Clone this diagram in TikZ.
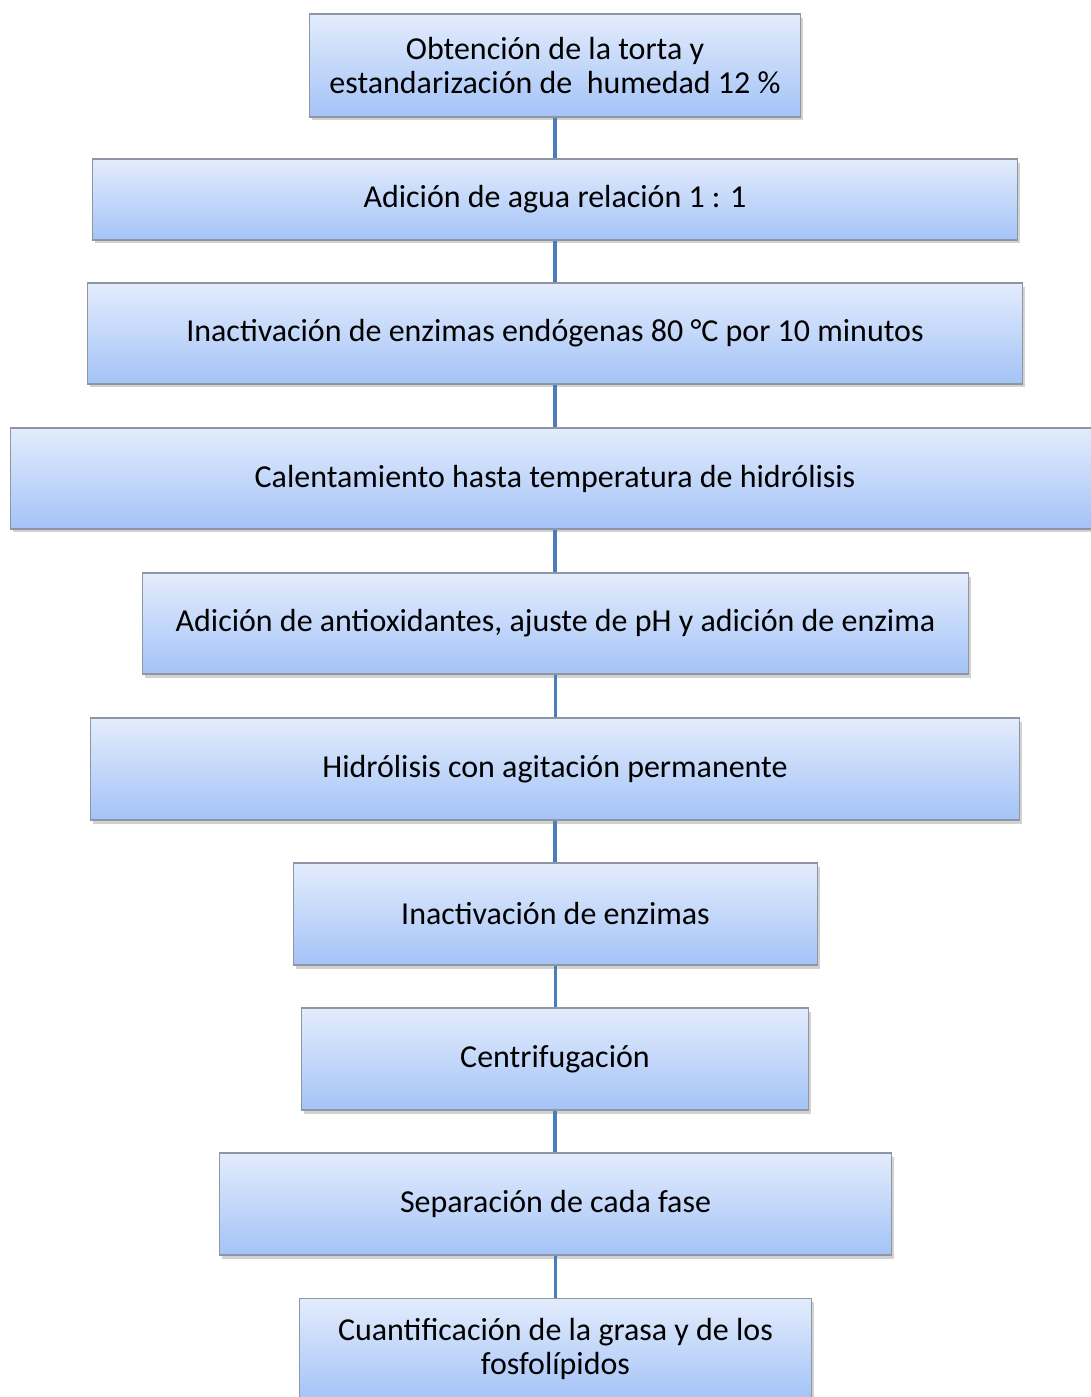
\documentclass[tikz,border=0pt]{standalone}
\usepackage{fontspec}
\setmainfont{Carlito}
\usetikzlibrary{shadows}
\definecolor{boxtop}{HTML}{E3ECFC}
\definecolor{boxbot}{HTML}{A4C3F7}
\definecolor{boxline}{HTML}{8E96A3}
\definecolor{linkblue}{HTML}{4A7EBB}
\tikzset{
  paso/.style={draw=boxline, line width=0.6pt, top color=boxtop, bottom color=boxbot,
    drop shadow={shadow xshift=0.05cm, shadow yshift=-0.07cm, fill=black!35, opacity=0.5},
    align=center, inner sep=0pt, font=\fontsize{18.2}{19.5}\selectfont},
  enlace/.style={linkblue, line width=2.2pt}
}
\begin{document}
\begin{tikzpicture}[x=0.02cm,y=-0.02cm]
        \useasboundingbox (0,0) rectangle (1090,1397);
        \node[paso, minimum width=9.84cm, minimum height=2.06cm] (p1) at (555,65.5)
            {Obtención de la torta y\\estandarización de\ \ humedad\ 12 \%};
        \node[paso, minimum width=18.52cm, minimum height=1.62cm] (p2) at (555,199.5)
            {Adición de agua relación 1 : 1};
        \node[paso, minimum width=18.72cm, minimum height=2.02cm] (p3) at (555,333.5)
            {Inactivación de enzimas endógenas 80 °C por 10 minutos};
        \node[paso, minimum width=21.8cm, minimum height=2.02cm] (p4) at (555,478.5)
            {Calentamiento hasta temperatura de hidrólisis};
        \node[paso, minimum width=16.54cm, minimum height=2.02cm] (p5) at (555.5,623.5)
            {Adición de antioxidantes, ajuste de pH y adición de enzima};
        \node[paso, minimum width=18.6cm, minimum height=2.04cm] (p6) at (555,769)
            {Hidrólisis con agitación permanente};
        \node[paso, minimum width=10.5cm, minimum height=2.04cm] (p7) at (555.5,914)
            {Inactivación de enzimas};
        \node[paso, minimum width=10.16cm, minimum height=2.04cm] (p8) at (555,1059)
            {Centrifugación};
        \node[paso, minimum width=13.46cm, minimum height=2.04cm] (p9) at (555.5,1204)
            {Separación de cada fase};
        \node[paso, minimum width=10.26cm, minimum height=2.04cm] (p10) at (555.5,1349)
            {Cuantificación de la grasa y de los\\fosfolípidos};

        \foreach \a/\b in {p1/p2,p2/p3,p3/p4,p4/p5,p5/p6,p6/p7,p7/p8,p8/p9,p9/p10}
            \draw[enlace] (\a.south) -- (\a.south |- \b.north);
    \end{tikzpicture}
\end{document}
